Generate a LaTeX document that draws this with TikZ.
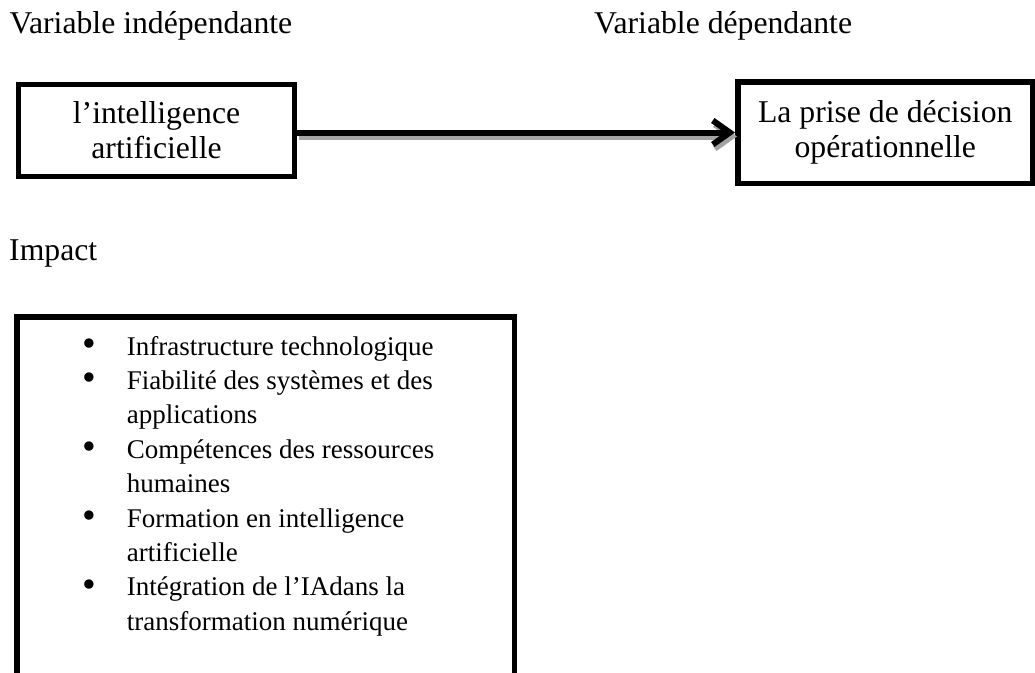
\documentclass[tikz,border=0pt]{standalone}
\usepackage{fontspec}
\setmainfont{Liberation Serif}
\usetikzlibrary{arrows.meta}
\newcommand{\factorbullet}{\makebox[44.7pt][l]{\raisebox{-1.2pt}{\scalebox{1.45}{\textbullet}}}}
\begin{document}
\begin{tikzpicture}[x=1pt,y=-1pt,
  heading/.style={font=\fontsize{31.7}{35}\selectfont, inner sep=0pt, anchor=base west},
  varbox/.style={draw, line width=5pt, font=\fontsize{31.7}{35}\selectfont,
    align=center, inner sep=0pt, anchor=north west},
  listtext/.style={font=\fontsize{27}{34.4}\selectfont, inner sep=0pt, anchor=base west},
  link/.style={line width=6pt, -{Straight Barb[length=17pt,width=24pt]}},
  linkshadow/.style={link, draw=black!36},
]
\useasboundingbox (0,0) rectangle (1035,672);

% column headings
\node[heading] (indep) at (9.5,33) {Variable indépendante};
\node[heading] (dep) at (594,33) {Variable dépendante};

% the two variables
\node[varbox, minimum width=276pt, minimum height=92pt] (ai) at (16,82)
  {l’intelligence\\artificielle};
\node[varbox, line width=5.5pt, minimum width=295pt, minimum height=101.5pt] (pd) at (735,79)
  {La prise de décision\\opérationnelle};

% relation arrow with its drop shadow
\draw[linkshadow] ([xshift=2pt,yshift=-4pt]ai.east |- pd.west) -- ([xshift=2pt,yshift=-4pt]pd.west);
\draw[link] (ai.east |- pd.west) -- (pd.west);

% impact factors
\node[heading] (impact) at (9,260) {Impact};
\node[draw, line width=5.5pt, anchor=north west, inner sep=0pt,
  minimum width=497.5pt, minimum height=420pt] (impactbox) at (14,314) {};
\node[listtext] (factors) at (82,355) {%
  \begin{tabular}[t]{@{}l@{}l@{}}
  \factorbullet & Infrastructure technologique\\
  \factorbullet & Fiabilité des systèmes et des\\
                & applications\\
  \factorbullet & Compétences des ressources\\
                & humaines\\
  \factorbullet & Formation en intelligence\\
                & artificielle\\
  \factorbullet & Intégration de l’IAdans la\\
                & transformation numérique
  \end{tabular}};
\end{tikzpicture}
\end{document}
